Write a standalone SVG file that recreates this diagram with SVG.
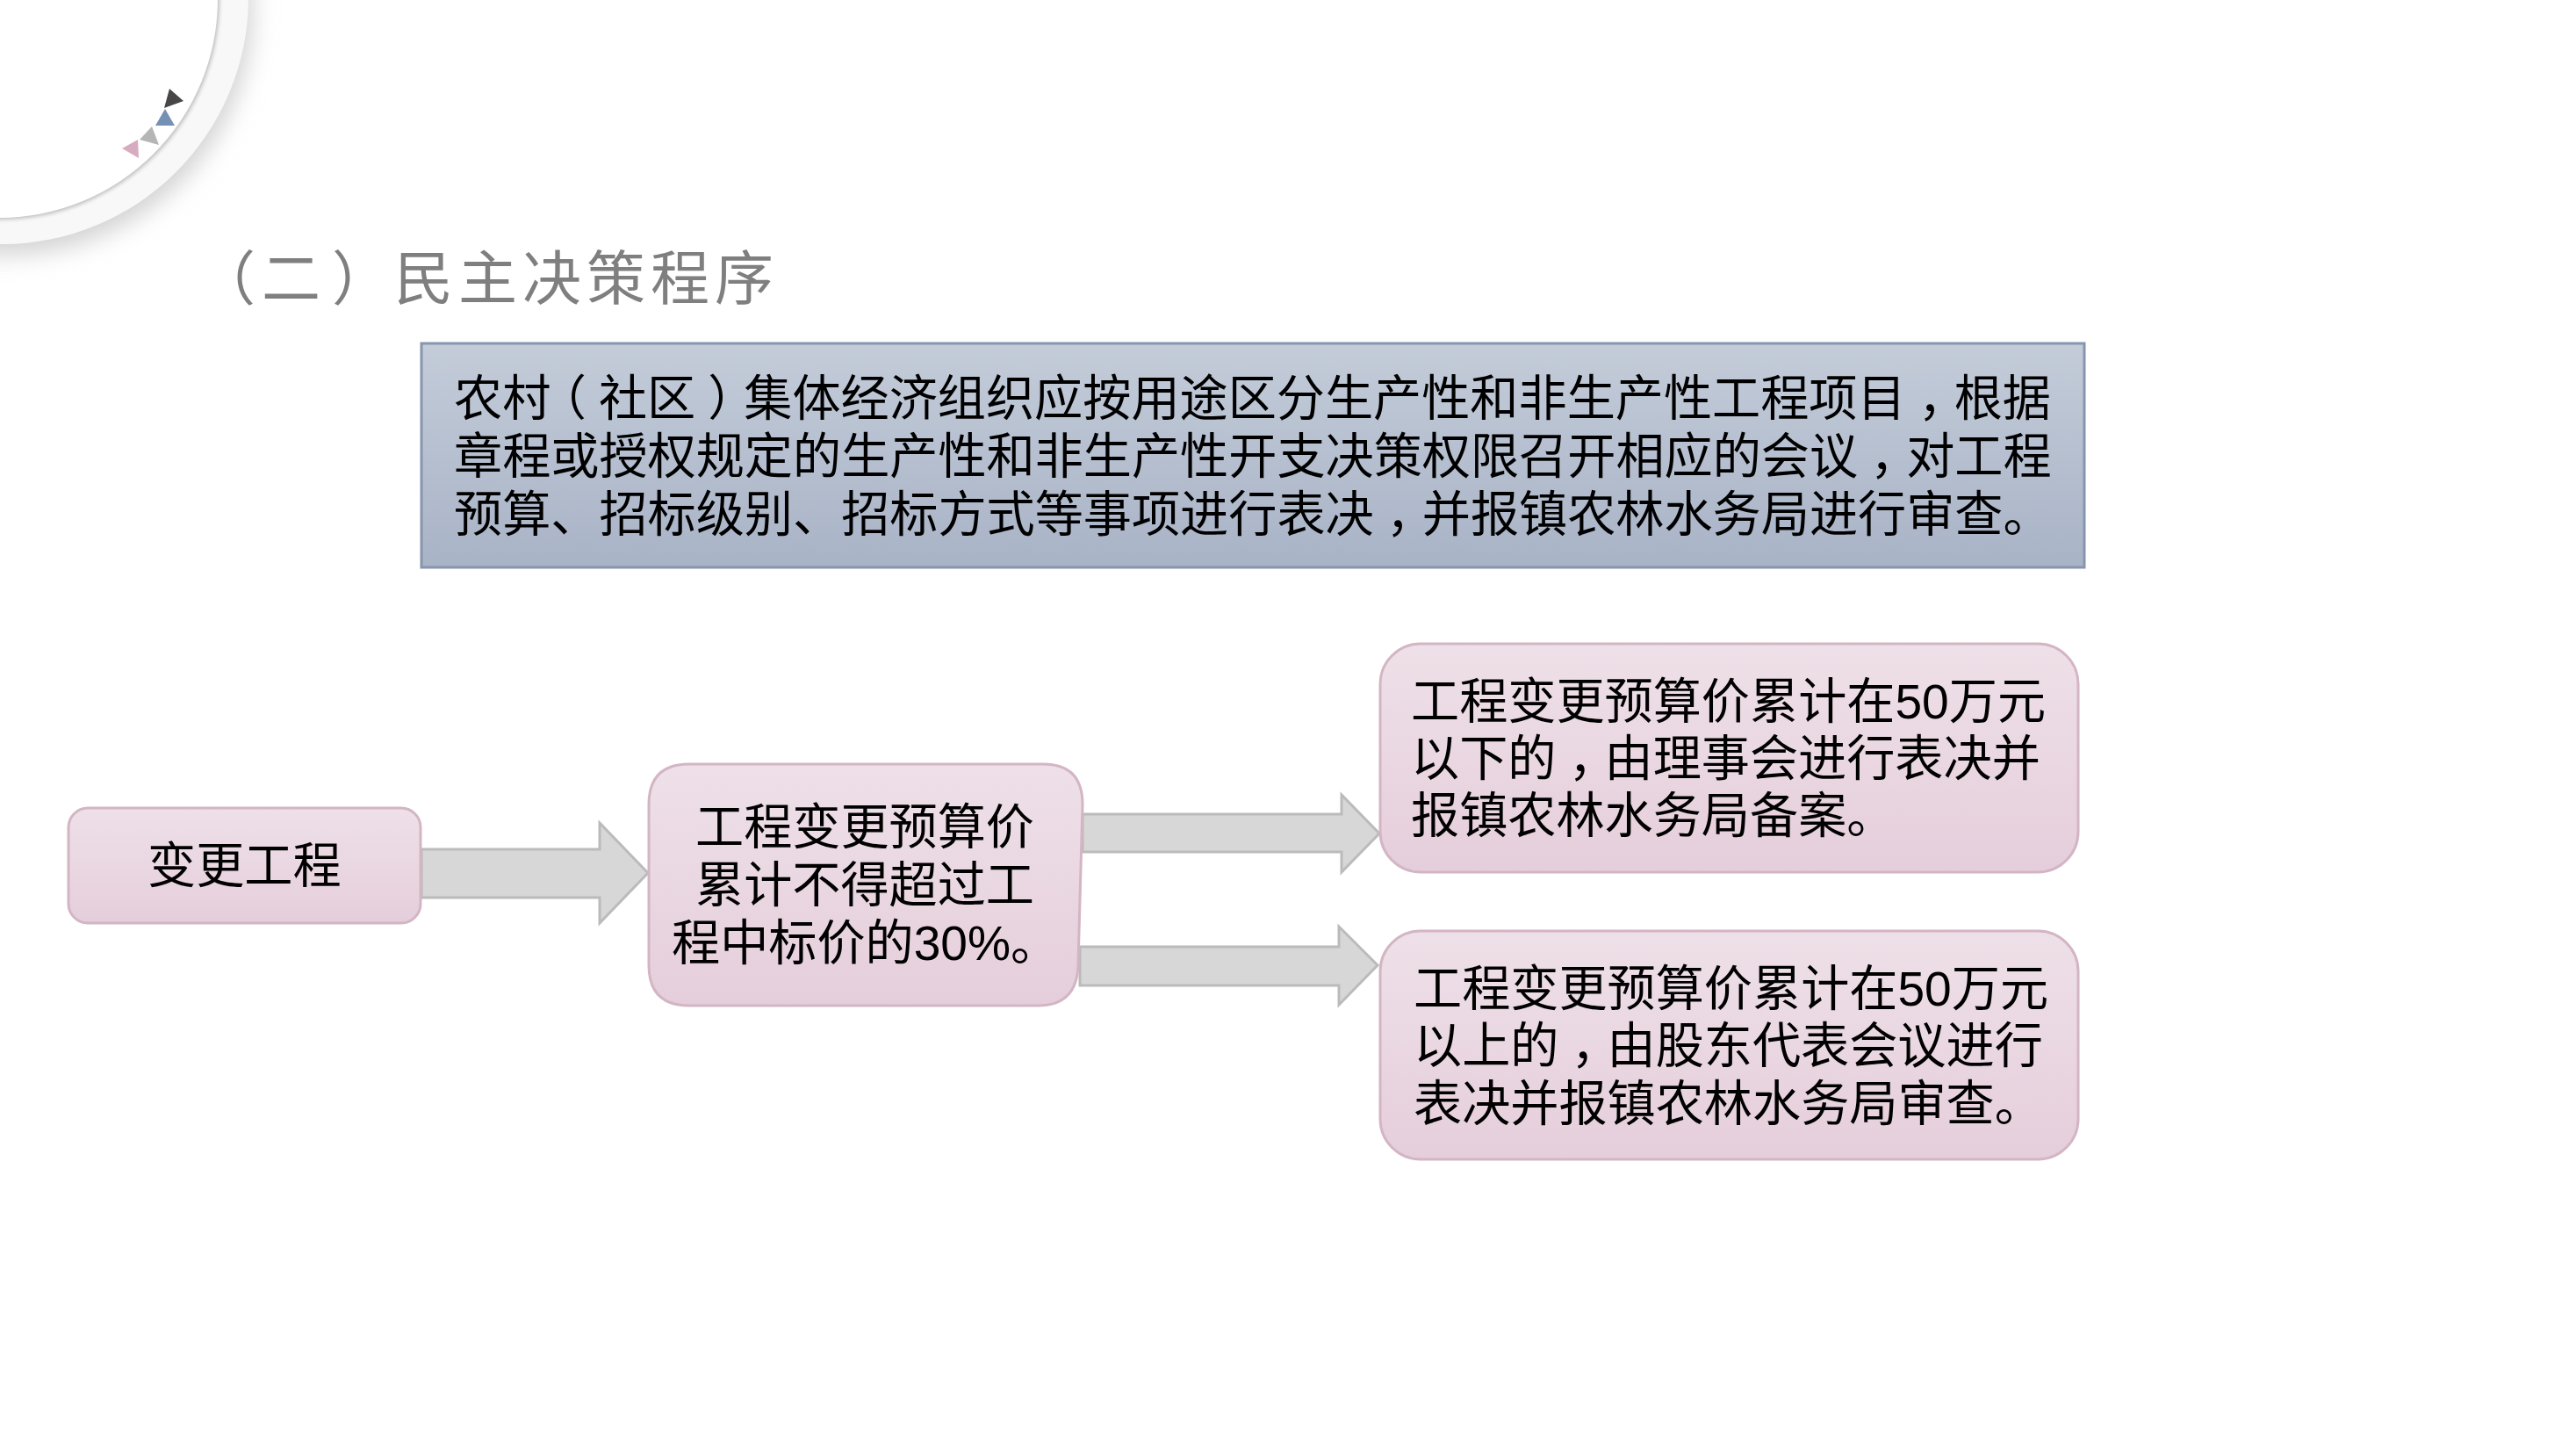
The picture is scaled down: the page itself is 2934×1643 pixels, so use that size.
<svg xmlns="http://www.w3.org/2000/svg" width="2934" height="1643" viewBox="0 0 2934 1643">
<style>
text{font-family:"Liberation Sans","Noto Sans CJK SC",sans-serif;font-size:55.15px;fill:#000}
.h{font-feature-settings:"halt"}
.title{font-family:"Noto Sans CJK SC",sans-serif;font-size:67px;fill:#7f7f7f}
.pink{fill:url(#gp);stroke:#d3b5c4;stroke-width:3}
.blue{fill:url(#gb);stroke:#8795ae;stroke-width:3}
.arrow{fill:#d7d7d7;stroke:#bbb;stroke-width:3}
</style>
<defs>
<linearGradient id="gp" x1="0" y1="0" x2="0" y2="1"><stop offset="0" stop-color="#eee0e8"/><stop offset="1" stop-color="#e5cedb"/></linearGradient>
<linearGradient id="gb" x1="0" y1="0" x2="0" y2="1"><stop offset="0" stop-color="#c4ccd9"/><stop offset="1" stop-color="#a8b3c6"/></linearGradient>
<filter id="soft" x="-30%" y="-30%" width="170%" height="170%"><feGaussianBlur stdDeviation="14"/></filter>
<filter id="thin" x="-10%" y="-10%" width="120%" height="120%"><feGaussianBlur stdDeviation="2"/></filter>
</defs>
<rect width="2934" height="1643" fill="#fff"/>
<g id="corner">
<circle cx="6" cy="9" r="281" fill="#d2d2d2" filter="url(#soft)"/>
<circle cx="2" cy="-3" r="281" fill="#f8f8f8"/>
<circle cx="0" cy="0" r="250" fill="#c0c0c0" filter="url(#thin)"/>
<circle cx="-1" cy="-1" r="249" fill="#fff"/>
<polygon points="193,101 209,115 187,123" fill="#474747"/>
<polygon points="188,124 199,143 177,143" fill="#7590b5"/>
<polygon points="173,144 181,165 159,159" fill="#b5b5b5"/>
<polygon points="157,159 158,180 139,169" fill="#d8acc0"/>
</g>
<text id="title" class="title" x="224 298 378 449 522 595 668 741 814" y="341">（二）民主决策程序</text>
<g id="connectors">
<polygon class="arrow" points="480,967 683,967 683,937 738,994 683,1051 683,1022 480,1022"/>
<polygon class="arrow" points="1233,927 1528,927 1528,905 1571,949 1528,993 1528,970 1233,970"/>
<polygon class="arrow" points="1230,1078 1525,1078 1525,1055 1569,1099 1525,1144 1525,1122 1230,1122"/>
</g>
<g id="n-note">
<rect class="blue" x="480" y="391" width="1894" height="255"/>
<text x="517" y="473">农村<tspan class="h" dx="13">（</tspan><tspan dx="14">社区</tspan><tspan class="h" dx="14">）</tspan><tspan dx="13.5">集体经济组织应按用途区分生产性和非生产性工程项目</tspan><tspan class="h" dx="14">，</tspan><tspan dx="13.5">根据</tspan></text>
<text x="517" y="539">章程或授权规定的生产性和非生产性开支决策权限召开相应的会议<tspan class="h" dx="14">，</tspan><tspan dx="13.5">对工程</tspan></text>
<text x="517" y="605">预算、招标级别、招标方式等事项进行表决<tspan class="h" dx="14">，</tspan><tspan dx="13.5">并报镇农林水务局进行审查。</tspan></text>
</g>
<g id="n-change">
<rect class="pink" x="78" y="920" width="401" height="131" rx="22"/>
<text x="168" y="1005">变更工程</text>
</g>
<g id="n-limit">
<path class="pink" d="M785,870 H1188 Q1233,870 1233,916 L1228,1098 Q1227,1145 1182,1145 H785 Q739,1145 739,1099 V916 Q739,870 785,870 Z"/>
<text x="792" y="961">工程变更预算价</text>
<text x="792" y="1027">累计不得超过工</text>
<text x="765" y="1093">程中标价的30%。</text>
</g>
<g id="n-below">
<rect class="pink" x="1572" y="733" width="795" height="260" rx="46"/>
<text x="1607" y="818">工程变更预算价累计在50万元</text>
<text x="1607" y="883">以下的<tspan class="h" dx="14">，</tspan><tspan dx="13.5">由理事会进行表决并</tspan></text>
<text x="1607" y="948">报镇农林水务局备案。</text>
</g>
<g id="n-above">
<rect class="pink" x="1572" y="1060" width="795" height="260" rx="46"/>
<text x="1610" y="1145">工程变更预算价累计在50万元</text>
<text x="1610" y="1210">以上的<tspan class="h" dx="14">，</tspan><tspan dx="13.5">由股东代表会议进行</tspan></text>
<text x="1610" y="1276">表决并报镇农林水务局审查。</text>
</g>
</svg>
